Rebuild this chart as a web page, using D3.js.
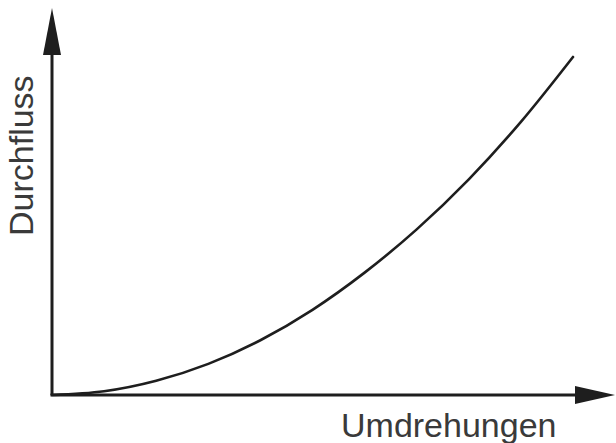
<!DOCTYPE html>
<html>
<head>
<meta charset="utf-8">
<script src="https://cdn.jsdelivr.net/npm/d3@7"></script>
<style>
  html, body { margin: 0; padding: 0; background: #fff; }
  svg { display: block; }
</style>
</head>
<body>
<script>
// Data (arbitrary units)
const umdrehungen = [0, 1, 2, 3, 4, 5, 6, 7, 8, 9, 10];
const durchfluss  = [0, 1.1, 4.2, 9.2, 16.2, 25.2, 36.2, 49, 63.8, 80.8, 100];
const xLabel = "Umdrehungen";
const yLabel = "Durchfluss";

const W = 616, H = 443;
const svg = d3.select("body").append("svg").attr("width", W).attr("height", H);

const x = d3.scaleLinear().domain([0, 10]).range([52, 573]);
const y = d3.scaleLinear().domain([0, 100]).range([395, 57]);

const ink = "#1e1e1e";

// Axes lines
const ox = x(0), oy = y(0);
svg.append("line").attr("x1", ox).attr("y1", oy).attr("x2", ox).attr("y2", 50)
  .attr("stroke", ink).attr("stroke-width", 3);
svg.append("line").attr("x1", ox - 1.5).attr("y1", oy).attr("x2", 580).attr("y2", oy)
  .attr("stroke", ink).attr("stroke-width", 3);

// Arrowheads
svg.append("path")
  .attr("d", `M${ox},8 L${ox + 9},55 L${ox - 9},55 Z`)
  .attr("fill", ink);
svg.append("path")
  .attr("d", `M615,${oy} L575,${oy - 9} L575,${oy + 9} Z`)
  .attr("fill", ink);

// Curve
const pts = umdrehungen.map((u, i) => [u, durchfluss[i]]);
svg.append("path")
  .datum(pts)
  .attr("fill", "none")
  .attr("stroke", ink)
  .attr("stroke-width", 2.6)
  .attr("stroke-linecap", "round")
  .attr("d", d3.line().x(d => x(d[0])).y(d => y(d[1])).curve(d3.curveMonotoneX));

// Labels
svg.append("text")
  .attr("x", 341).attr("y", 437)
  .attr("font-family", "Liberation Sans, Arial, sans-serif")
  .attr("font-size", 34)
  .attr("fill", "#3a3a3a")
  .text(xLabel);

svg.append("text")
  .attr("transform", "translate(33,236) rotate(-90)")
  .attr("font-family", "Liberation Sans, Arial, sans-serif")
  .attr("font-size", 34)
  .attr("fill", "#3a3a3a")
  .text(yLabel);
</script>
</body>
</html>
